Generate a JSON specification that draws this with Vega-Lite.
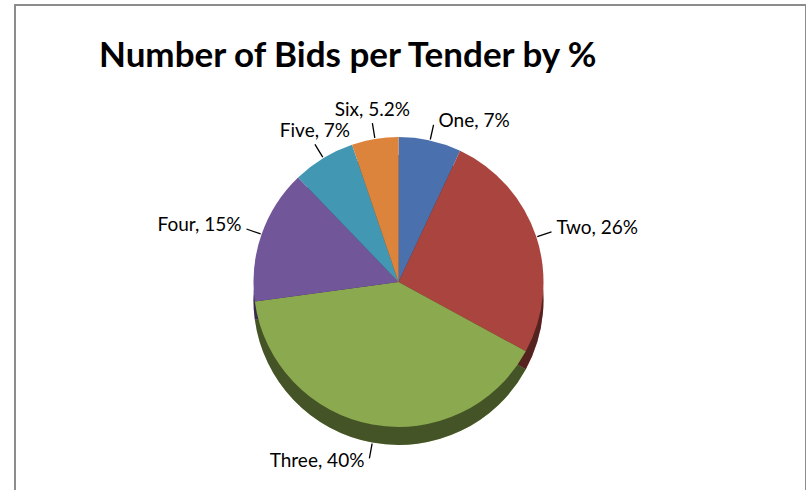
{
  "$schema": "https://vega.github.io/schema/vega-lite/v6.json",
  "autosize": {"type": "none"},
  "padding": {"left": 15, "top": 5, "right": 0, "bottom": 0},
  "width": 791,
  "height": 554,
  "background": "white",
  "title": {
    "text": "Number of Bids per Tender by %",
    "anchor": "start",
    "frame": "group",
    "orient": "top",
    "offset": 0,
    "baseline": "alphabetic",
    "dx": 84,
    "dy": 98,
    "font": "Lato",
    "fontSize": 35,
    "fontWeight": "bold",
    "color": "#000000"
  },
  "data": {
    "values": [
      {"name": "One", "pct": 7, "rank": 1, "label": "One, 7%"},
      {"name": "Two", "pct": 26, "rank": 2, "label": "Two, 26%"},
      {"name": "Three", "pct": 40, "rank": 3, "label": "Three, 40%"},
      {"name": "Four", "pct": 15, "rank": 4, "label": "Four, 15%"},
      {"name": "Five", "pct": 7, "rank": 5, "label": "Five, 7%"},
      {"name": "Six", "pct": 5.2, "rank": 6, "label": "Six, 5.2%"}
    ]
  },
  "layer": [
    {
      "mark": {"type": "rect", "fill": "white", "fillOpacity": 0, "stroke": "#8c8c8c", "strokeWidth": 2},
      "encoding": {}
    },
    {
      "mark": {"type": "arc", "radius": 145, "xOffset": -12, "yOffset": 18},
      "encoding": {
        "theta": {"field": "pct", "type": "quantitative", "stack": true},
        "order": {"field": "rank", "type": "quantitative"},
        "color": {"field": "name", "type": "nominal", "legend": null,
          "scale": {"domain": ["One", "Two", "Three", "Four", "Five", "Six"],
            "range": ["#4a71ad", "#a9443f", "#8ba94f", "#72569a", "#4298b3", "#dc833c"]}}
      }
    },
    {
      "mark": {"type": "arc", "radius": 145, "xOffset": -12, "yOffset": 18, "fill": "#000000", "fillOpacity": 0.5},
      "encoding": {
        "theta": {"field": "pct", "type": "quantitative", "stack": true},
        "order": {"field": "rank", "type": "quantitative"}
      }
    },
    {
      "mark": {"type": "arc", "radius": 145, "xOffset": -12},
      "encoding": {
        "theta": {"field": "pct", "type": "quantitative", "stack": true},
        "order": {"field": "rank", "type": "quantitative"},
        "color": {"field": "name", "type": "nominal", "legend": null,
          "scale": {"domain": ["One", "Two", "Three", "Four", "Five", "Six"],
            "range": ["#4a71ad", "#a9443f", "#8ba94f", "#72569a", "#4298b3", "#dc833c"]}}
      }
    },
    {
      "mark": {"type": "arc", "radius": 161, "radius2": 146, "padAngle": 3.1416, "xOffset": -12, "fill": "transparent", "stroke": "#000000", "strokeWidth": 1.3},
      "encoding": {
        "theta": {"field": "pct", "type": "quantitative", "stack": true},
        "order": {"field": "rank", "type": "quantitative"},
        "strokeOpacity": {"condition": {"test": "datum.name == 'Three'", "value": 0}, "value": 1}
      }
    },
    {
      "mark": {"type": "arc", "radius": 161, "radius2": 146, "padAngle": 3.1416, "xOffset": -12, "yOffset": 18, "fill": "transparent", "stroke": "#000000", "strokeWidth": 1.3},
      "encoding": {
        "theta": {"field": "pct", "type": "quantitative", "stack": true},
        "order": {"field": "rank", "type": "quantitative"},
        "strokeOpacity": {"condition": {"test": "datum.name == 'Three'", "value": 1}, "value": 0}
      }
    },
    {
      "mark": {"type": "text", "radius": 161, "xOffset": -12, "align": "left", "baseline": "middle", "font": "Lato", "fontSize": 19, "color": "#000000", "dx": 5, "dy": -4},
      "encoding": {
        "theta": {"field": "pct", "type": "quantitative", "stack": true},
        "order": {"field": "rank", "type": "quantitative"},
        "text": {"condition": {"test": "datum.name == 'One' || datum.name == 'Two'", "field": "label"}, "value": ""}
      }
    },
    {
      "mark": {"type": "text", "radius": 161, "xOffset": -12, "yOffset": 18, "align": "right", "baseline": "middle", "font": "Lato", "fontSize": 19, "color": "#000000", "dx": -5, "dy": 3},
      "encoding": {
        "theta": {"field": "pct", "type": "quantitative", "stack": true},
        "order": {"field": "rank", "type": "quantitative"},
        "text": {"condition": {"test": "datum.name == 'Three'", "field": "label"}, "value": ""}
      }
    },
    {
      "mark": {"type": "text", "radius": 161, "xOffset": -12, "align": "right", "baseline": "middle", "font": "Lato", "fontSize": 19, "color": "#000000", "dx": -5, "dy": -4},
      "encoding": {
        "theta": {"field": "pct", "type": "quantitative", "stack": true},
        "order": {"field": "rank", "type": "quantitative"},
        "text": {"condition": {"test": "datum.name == 'Four'", "field": "label"}, "value": ""}
      }
    },
    {
      "mark": {"type": "text", "radius": 161, "xOffset": -12, "align": "center", "baseline": "bottom", "font": "Lato", "fontSize": 19, "color": "#000000", "dx": 0, "dy": -3},
      "encoding": {
        "theta": {"field": "pct", "type": "quantitative", "stack": true},
        "order": {"field": "rank", "type": "quantitative"},
        "text": {"condition": {"test": "datum.name == 'Five' || datum.name == 'Six'", "field": "label"}, "value": ""}
      }
    }
  ]
}
